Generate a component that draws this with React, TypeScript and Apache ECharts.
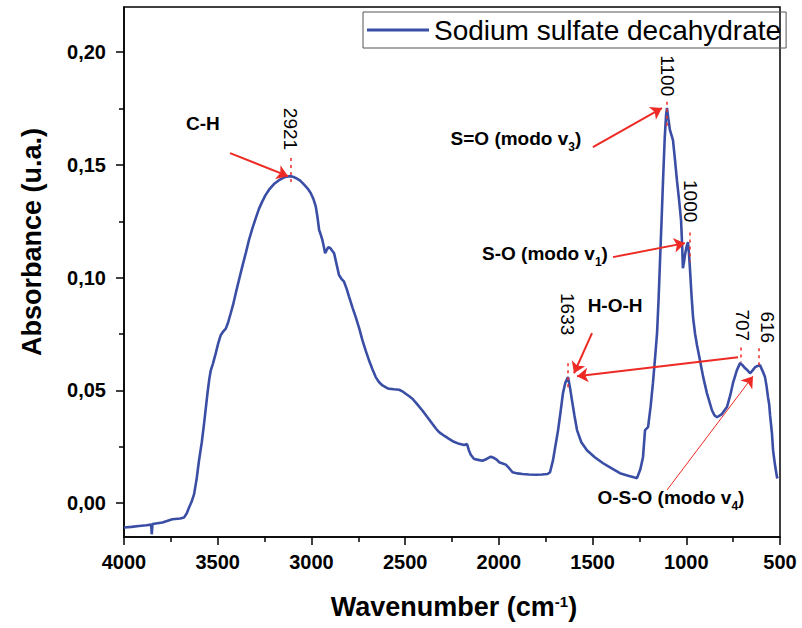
import React, { useEffect, useRef } from "react";
import * as echarts from "echarts";

// Spectrum: wavenumber (cm-1) and absorbance (u.a.)
const wavenumber = [
  4000, 3960, 3920, 3880, 3855, 3852, 3848, 3795, 3742, 3700, 3680, 3665, 3653, 3640, 3626, 3612, 3600, 3585,
  3573, 3555, 3545, 3537, 3525, 3511, 3497, 3484, 3470, 3457, 3445, 3431, 3418, 3404, 3385, 3369, 3350, 3333,
  3315, 3297, 3280, 3262, 3245, 3226, 3200, 3173, 3145, 3120, 3100, 3084, 3060, 3039, 3020, 3004, 2990, 2977,
  2968, 2959, 2950, 2942, 2932, 2927, 2920, 2910, 2900, 2890, 2879, 2866, 2853, 2840, 2826, 2812, 2799, 2780,
  2764, 2745, 2728, 2710, 2693, 2675, 2657, 2640, 2621, 2600, 2586, 2560, 2532, 2515, 2497, 2480, 2461, 2435,
  2408, 2380, 2355, 2335, 2319, 2290, 2266, 2240, 2212, 2185, 2170, 2160, 2150, 2132, 2110, 2088, 2065, 2043,
  2025, 2010, 1998, 1980, 1963, 1945, 1927, 1900, 1874, 1840, 1803, 1770, 1740, 1727, 1711, 1697, 1684, 1670,
  1658, 1645, 1631, 1620, 1610, 1597, 1583, 1560, 1530, 1490, 1444, 1400, 1354, 1310, 1280, 1263, 1245, 1231,
  1220, 1204, 1190, 1178, 1167, 1156, 1148, 1140, 1132, 1124, 1115, 1108, 1103, 1095, 1087, 1071, 1060, 1050,
  1038, 1028, 1022, 1018, 1012, 1007, 998, 991, 985, 980, 972, 964, 953, 943, 927, 910, 890, 863, 850, 836, 810,
  783, 765, 751, 730, 713, 700, 687, 672, 660, 645, 633, 620, 607, 595, 580, 572, 564, 558, 553, 548, 543, 537,
  530, 525, 516, 512,
];
const absorbance = [
  -0.0108, -0.0105, -0.0101, -0.0098, -0.0095, -0.0138, -0.0092, -0.0086, -0.0071, -0.0068, -0.0064, -0.0045,
  -0.0019, 0.0005, 0.004, 0.011, 0.0188, 0.027, 0.0352, 0.0485, 0.055, 0.0589, 0.062, 0.0663, 0.071, 0.0745,
  0.0762, 0.0774, 0.08, 0.0841, 0.088, 0.093, 0.0995, 0.1049, 0.111, 0.1168, 0.1218, 0.1264, 0.1305, 0.1338,
  0.1366, 0.139, 0.1415, 0.1432, 0.1445, 0.145, 0.1448, 0.1442, 0.143, 0.1412, 0.1395, 0.1375, 0.135, 0.1316,
  0.127, 0.1212, 0.119, 0.1168, 0.113, 0.1108, 0.112, 0.1135, 0.1132, 0.112, 0.1108, 0.106, 0.1012, 0.0995,
  0.0982, 0.095, 0.0915, 0.0865, 0.0826, 0.0775, 0.0723, 0.0675, 0.0634, 0.0595, 0.0559, 0.0537, 0.0522, 0.0512,
  0.0507, 0.0505, 0.0503, 0.0496, 0.0485, 0.0475, 0.0463, 0.0438, 0.0411, 0.038, 0.0352, 0.033, 0.0315, 0.0298,
  0.0285, 0.0272, 0.0263, 0.0258, 0.0262, 0.0235, 0.0215, 0.0196, 0.0192, 0.0188, 0.0196, 0.0206, 0.02, 0.0192,
  0.0181, 0.0176, 0.0171, 0.0155, 0.0137, 0.0132, 0.0129, 0.0127, 0.0126, 0.0127, 0.0129, 0.0137, 0.0191, 0.026,
  0.0324, 0.041, 0.0488, 0.0535, 0.0559, 0.051, 0.0457, 0.039, 0.0324, 0.027, 0.0235, 0.0205, 0.0177, 0.0155,
  0.0133, 0.0122, 0.0115, 0.0111, 0.015, 0.0204, 0.0324, 0.0337, 0.043, 0.0532, 0.064, 0.0754, 0.09, 0.1078,
  0.125, 0.1432, 0.162, 0.172, 0.1752, 0.17, 0.1654, 0.161, 0.152, 0.1432, 0.134, 0.1255, 0.114, 0.1042, 0.107,
  0.11, 0.114, 0.1157, 0.11, 0.1033, 0.092, 0.0825, 0.075, 0.0701, 0.0634, 0.056, 0.0488, 0.0412, 0.039, 0.0381,
  0.0395, 0.0426, 0.048, 0.0532, 0.059, 0.0621, 0.0612, 0.0599, 0.0588, 0.0576, 0.059, 0.0603, 0.0608, 0.0612,
  0.059, 0.0559, 0.052, 0.047, 0.044, 0.039, 0.035, 0.031, 0.0235, 0.019, 0.016, 0.0115, 0.011,
];

const seriesName = "Sodium sulfate decahydrate";
const yTicks = [0, 0.05, 0.1, 0.15, 0.2];
const yMinorTicks = [0.025, 0.075, 0.125, 0.175];

// Annotations (data coordinates: wavenumber, absorbance)
const peakNumbers = [
  { text: "2921", w: 3109, v: 0.1659 },
  { text: "1100", w: 1098, v: 0.1895 },
  { text: "1000", w: 980, v: 0.1339 },
  { text: "1633", w: 1636, v: 0.0838 },
  { text: "707", w: 698, v: 0.0789 },
  { text: "616", w: 569, v: 0.078 },
];
const bondLabels = [
  { text: "C-H", w: 3579, v: 0.1685 },
  { text: "S=O (modo v{sub|3})", w: 1909, v: 0.1619 },
  { text: "S-O (modo v{sub|1})", w: 1754, v: 0.1109 },
  { text: "H-O-H", w: 1380, v: 0.0878 },
  { text: "O-S-O (modo v{sub|4})", w: 1082, v: 0.0027 },
];
const arrows = [
  { from: [3434, 0.1552], to: [3125, 0.145], width: 2 },
  { from: [1498, 0.1579], to: [1130, 0.1752], width: 2 },
  { from: [1391, 0.1091], to: [1007, 0.1153], width: 2 },
  { from: [1503, 0.0754], to: [1599, 0.0576], width: 2 },
  { from: [724, 0.0647], to: [1583, 0.0563], width: 2 },
  { from: [1103, 0.0058], to: [644, 0.0563], width: 1 },
];
const peakMarks = [
  { w: 3109, v1: 0.153, v2: 0.141 },
  { w: 1103, v1: 0.178, v2: 0.166 },
  { w: 980, v1: 0.12, v2: 0.107 },
  { w: 1631, v1: 0.062, v2: 0.0514 },
  { w: 708, v1: 0.069, v2: 0.0625 },
  { w: 612, v1: 0.0687, v2: 0.0612 },
];

const FONT = '"Liberation Sans", Arial, sans-serif';
const BLUE = "#3b4ea5";
const RED = "#ee2a24";

export default function App() {
  const ref = useRef<HTMLDivElement>(null);
  useEffect(() => {
    if (!ref.current) return;
    const chart = echarts.init(ref.current, null, { renderer: "svg" });
    const lineData = wavenumber.map((w, i) => [w, absorbance[i]]);
    const option: any = {
      animation: false,
      backgroundColor: "#fff",
      grid: {
        left: 124,
        top: 7,
        right: 22,
        bottom: 91,
        show: true,
        borderColor: "#000",
        borderWidth: 1.5,
        backgroundColor: "transparent",
      },
      legend: {
        data: [seriesName],
        left: 363,
        top: 12,
        padding: [4, 5, 4, 4],
        borderColor: "#555",
        borderWidth: 1,
        icon: "rect",
        itemWidth: 62,
        itemHeight: 3,
        textStyle: { fontFamily: FONT, fontSize: 28, color: "#000" },
      },
      xAxis: {
        type: "value",
        min: 500,
        max: 4000,
        interval: 500,
        inverse: true,
        axisLine: { show: true, onZero: false, lineStyle: { color: "#000", width: 1.5 } },
        axisTick: { show: true, length: 8, lineStyle: { color: "#000", width: 1.5 } },
        minorTick: { show: true, splitNumber: 2, length: 5, lineStyle: { color: "#000", width: 1.5 } },
        axisLabel: {
          fontFamily: FONT,
          fontSize: 20,
          fontWeight: "bold",
          color: "#000",
          margin: 15,
          formatter: (v: number) => String(v),
        },
        splitLine: { show: false },
      },
      yAxis: [
        {
          type: "value",
          min: -0.015,
          max: 0.22,
          axisLine: { show: true, onZero: false, lineStyle: { color: "#000", width: 1.5 } },
          axisTick: { show: true, length: 8, customValues: yTicks, lineStyle: { color: "#000", width: 1.5 } },
          axisLabel: {
            customValues: yTicks,
            fontFamily: FONT,
            fontSize: 20,
            fontWeight: "bold",
            color: "#000",
            margin: 18,
            formatter: (v: number) => v.toFixed(2).replace(".", ","),
          },
          splitLine: { show: false },
        },
        {
          type: "value",
          min: -0.015,
          max: 0.22,
          position: "left",
          axisLine: { show: false },
          axisTick: { show: true, length: 5, customValues: yMinorTicks, lineStyle: { color: "#000", width: 1.5 } },
          axisLabel: { show: false },
          splitLine: { show: false },
        },
      ],
      series: [
        {
          name: seriesName,
          type: "line",
          data: lineData,
          showSymbol: false,
          symbol: "none",
          lineStyle: { color: BLUE, width: 2.6 },
          itemStyle: { color: BLUE },
          z: 3,
        },
        {
          type: "lines",
          coordinateSystem: "cartesian2d",
          xAxisIndex: 0,
          yAxisIndex: 0,
          symbol: ["none", "arrow"],
          symbolSize: [0, 11],
          data: arrows.map((a) => ({
            coords: [a.from, a.to],
            lineStyle: { width: a.width, color: RED },
          })),
          lineStyle: { color: RED, width: 2, opacity: 1 },
          z: 5,
        },
        {
          type: "lines",
          coordinateSystem: "cartesian2d",
          xAxisIndex: 0,
          yAxisIndex: 0,
          symbol: ["none", "none"],
          data: peakMarks.map((m) => ({ coords: [[m.w, m.v1], [m.w, m.v2]] })),
          lineStyle: { color: RED, width: 1.5, type: [3, 4], opacity: 1 },
          z: 5,
        },
      ],
    };
    chart.setOption(option);

    const px = (w: number, v: number) => chart.convertToPixel({ seriesIndex: 0 }, [w, v]) as number[];
    const graphics: any[] = [];
    peakNumbers.forEach((p) => {
      const [x, y] = px(p.w, p.v);
      graphics.push({
        type: "text",
        x,
        y,
        rotation: -Math.PI / 2,
        style: {
          text: p.text,
          fontFamily: FONT,
          fontSize: 19,
          fill: "#000",
          align: "center",
          verticalAlign: "middle",
        },
      });
    });
    bondLabels.forEach((b) => {
      const [x, y] = px(b.w, b.v);
      graphics.push({
        type: "text",
        x,
        y,
        style: {
          text: b.text,
          fontFamily: FONT,
          fontSize: 19,
          fontWeight: "bold",
          fill: "#000",
          align: "center",
          verticalAlign: "middle",
          rich: {
            sub: {
              fontFamily: FONT,
              fontSize: 12,
              fontWeight: "bold",
              fill: "#000",
              lineHeight: 30,
              verticalAlign: "bottom",
            },
          },
        },
      });
    });
    graphics.push({
      type: "text",
      x: 454,
      y: 607,
      style: {
        text: "Wavenumber (cm{sup|-1})",
        fontFamily: FONT,
        fontSize: 27,
        fontWeight: "bold",
        fill: "#000",
        align: "center",
        verticalAlign: "middle",
        rich: {
          sup: {
            fontFamily: FONT,
            fontSize: 15,
            fontWeight: "bold",
            fill: "#000",
            verticalAlign: "top",
            lineHeight: 15,
          },
        },
      },
    });
    graphics.push({
      type: "text",
      x: 32,
      y: 242,
      rotation: Math.PI / 2,
      style: {
        text: "Absorbance (u.a.)",
        fontFamily: FONT,
        fontSize: 27,
        fontWeight: "bold",
        fill: "#000",
        align: "center",
        verticalAlign: "middle",
      },
    });
    chart.setOption({ graphic: graphics });

    return () => chart.dispose();
  }, []);
  return (
    <div
      ref={ref}
      style={{ position: "fixed", left: 0, top: 0, width: 802, height: 628, background: "#fff" }}
    />
  );
}
